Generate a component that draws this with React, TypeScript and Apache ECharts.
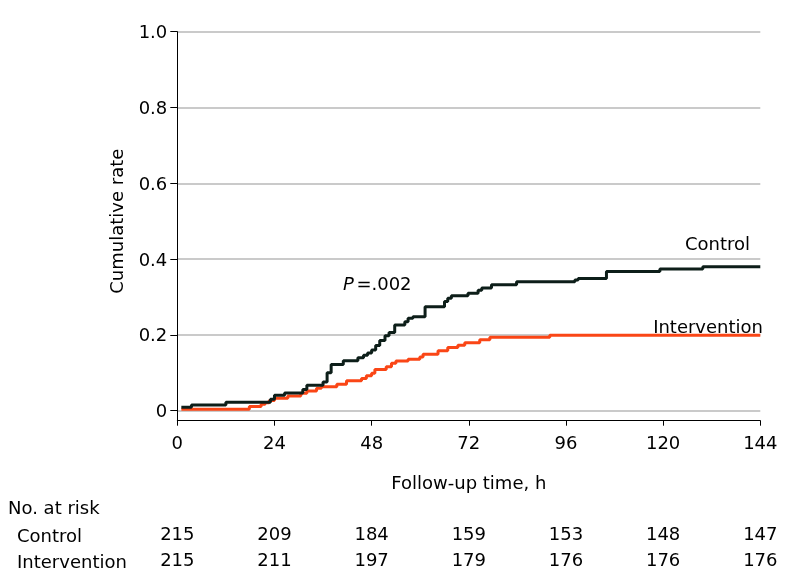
import React, { useEffect, useRef } from "react";
import * as echarts from "echarts";

const HOUR_TICKS = [0, 24, 48, 72, 96, 120, 144];
const CONTROL_AT_RISK = [215, 209, 184, 159, 153, 148, 147];
const INTERVENTION_AT_RISK = [215, 211, 197, 179, 176, 176, 176];

const CONTROL_TIME = [1, 3.5, 12, 23, 24, 26.5, 31, 32, 36, 37, 38, 41, 44.6, 46, 47, 48, 49, 50, 51.3, 52.3, 53.7, 56.2, 57, 58.2, 61.2, 66, 66.8, 67.7, 71.8, 74.3, 75.2, 77.6, 83.8, 98.2, 99, 106, 119.2, 129.8, 144];
const CONTROL_RATE = [0.009, 0.015, 0.022, 0.03, 0.041, 0.047, 0.056, 0.067, 0.076, 0.1, 0.122, 0.132, 0.14, 0.146, 0.152, 0.16, 0.172, 0.185, 0.198, 0.206, 0.226, 0.235, 0.244, 0.248, 0.274, 0.288, 0.297, 0.303, 0.31, 0.318, 0.324, 0.332, 0.34, 0.345, 0.349, 0.367, 0.374, 0.38, 0.38];

const INTERVENTION_TIME = [1, 17.8, 20.7, 21.7, 22.7, 24, 27.3, 30.5, 32, 34.4, 35.6, 39.4, 41.8, 45.5, 46.7, 48, 48.8, 51.6, 52.9, 54, 57, 59.9, 60.7, 64.4, 66.8, 69.3, 71, 74.7, 77.2, 92, 144];
const INTERVENTION_RATE = [0.004, 0.011, 0.017, 0.021, 0.027, 0.033, 0.039, 0.046, 0.052, 0.059, 0.063, 0.07, 0.079, 0.085, 0.092, 0.099, 0.109, 0.116, 0.125, 0.131, 0.136, 0.142, 0.149, 0.158, 0.167, 0.173, 0.179, 0.187, 0.194, 0.199, 0.199];

const FONT = "DejaVu Sans";
const FS = 18;
const BLACK = "#0d1e19";
const ORANGE = "#fa4616";
const GRID_GRAY = "#b8b8b8";

export default function App() {
  const ref = useRef<HTMLDivElement>(null);
  useEffect(() => {
    if (!ref.current) return;
    const chart = echarts.init(ref.current, undefined, { renderer: "svg" });
    const controlData = CONTROL_TIME.map((t, i) => [t, CONTROL_RATE[i]]);
    const interventionData = INTERVENTION_TIME.map((t, i) => [t, INTERVENTION_RATE[i]]);
    const labelStyle = { fontSize: FS, color: "#000", fontFamily: FONT };
    const riskAxis = (offset: number, values: number[]) => ({
      gridIndex: 0,
      type: "value",
      position: "bottom",
      min: 0,
      max: 144,
      interval: 24,
      offset,
      axisLine: { show: false, onZero: false },
      axisTick: { show: false },
      splitLine: { show: false },
      axisLabel: {
        ...labelStyle,
        margin: 13,
        formatter: (v: number) => {
          const i = HOUR_TICKS.indexOf(v);
          return i >= 0 ? String(values[i]) : "";
        },
      },
    });
    chart.setOption({
      animation: false,
      textStyle: { fontFamily: FONT },
      grid: [
        { left: 177.3, right: 33.7, top: 31.7, height: 389 },
        { left: 177.3, right: 33.7, top: 31.7, height: 379 },
      ],
      xAxis: [
        {
          gridIndex: 0,
          type: "value",
          position: "bottom",
          min: 0,
          max: 144,
          interval: 24,
          axisLine: { show: true, onZero: false, lineStyle: { color: "#000", width: 1 } },
          axisTick: { show: true, length: 5, lineStyle: { color: "#000", width: 1 } },
          axisLabel: { ...labelStyle, margin: 13 },
          splitLine: { show: false },
          name: "Follow-up time, h",
          nameLocation: "middle",
          nameGap: 53,
          nameTextStyle: { ...labelStyle },
        },
        riskAxis(91, CONTROL_AT_RISK),
        riskAxis(117, INTERVENTION_AT_RISK),
        { gridIndex: 1, type: "value", position: "bottom", min: 0, max: 144, show: false },
      ],
      yAxis: [
        {
          gridIndex: 0,
          type: "value",
          position: "left",
          min: -0.0264,
          max: 1,
          axisLine: { show: true, onZero: false, lineStyle: { color: "#000", width: 1 } },
          axisTick: { show: false },
          axisLabel: { show: false },
          splitLine: { show: false },
        },
        {
          gridIndex: 1,
          type: "value",
          position: "left",
          min: 0,
          max: 1,
          interval: 0.2,
          axisLine: { show: false, onZero: false },
          axisTick: { show: true, length: 7, lineStyle: { color: "#000", width: 1 } },
          axisLabel: {
            ...labelStyle,
            margin: 10,
            formatter: (v: number) => (v === 0 ? "0" : v.toFixed(1)),
          },
          splitLine: { show: true, showMinLine: true, showMaxLine: true, lineStyle: { color: GRID_GRAY, width: 1.5 } },
          name: "Cumulative rate",
          nameLocation: "middle",
          nameGap: 52,
          nameTextStyle: { ...labelStyle },
        },
      ],
      series: [
        {
          type: "line",
          name: "Intervention",
          xAxisIndex: 0,
          yAxisIndex: 0,
          step: "end",
          data: interventionData,
          symbol: "none",
          lineStyle: { color: ORANGE, width: 3 },
          itemStyle: { color: ORANGE },
          z: 3,
        },
        {
          type: "line",
          name: "Control",
          xAxisIndex: 0,
          yAxisIndex: 0,
          step: "end",
          data: controlData,
          symbol: "none",
          lineStyle: { color: BLACK, width: 3 },
          itemStyle: { color: BLACK },
          z: 4,
        },
      ],
      graphic: [
        { type: "text", x: 750, y: 243, style: { text: "Control", fontSize: FS, fontFamily: FONT, fill: "#000", align: "right", verticalAlign: "middle" } },
        { type: "text", x: 763, y: 326, style: { text: "Intervention", fontSize: FS, fontFamily: FONT, fill: "#000", align: "right", verticalAlign: "middle" } },
        {
          type: "text",
          x: 343,
          y: 283,
          style: {
            text: "{i|P}{s| }=.002",
            fontSize: FS,
            fontFamily: FONT,
            fill: "#000",
            align: "left",
            verticalAlign: "middle",
            rich: {
              i: { fontStyle: "italic", fontSize: FS, fontFamily: FONT, fill: "#000" },
              s: { fontSize: 8, fontFamily: FONT, fill: "#000" },
            },
          },
        },
        { type: "text", x: 8, y: 507, style: { text: "No. at risk", fontSize: FS, fontFamily: FONT, fill: "#000", align: "left", verticalAlign: "middle" } },
        { type: "text", x: 17, y: 535, style: { text: "Control", fontSize: FS, fontFamily: FONT, fill: "#000", align: "left", verticalAlign: "middle" } },
        { type: "text", x: 17, y: 561, style: { text: "Intervention", fontSize: FS, fontFamily: FONT, fill: "#000", align: "left", verticalAlign: "middle" } },
      ],
    });
    return () => chart.dispose();
  }, []);
  return <div ref={ref} style={{ position: "fixed", left: 0, top: 0, width: 794, height: 588 }} />;
}
